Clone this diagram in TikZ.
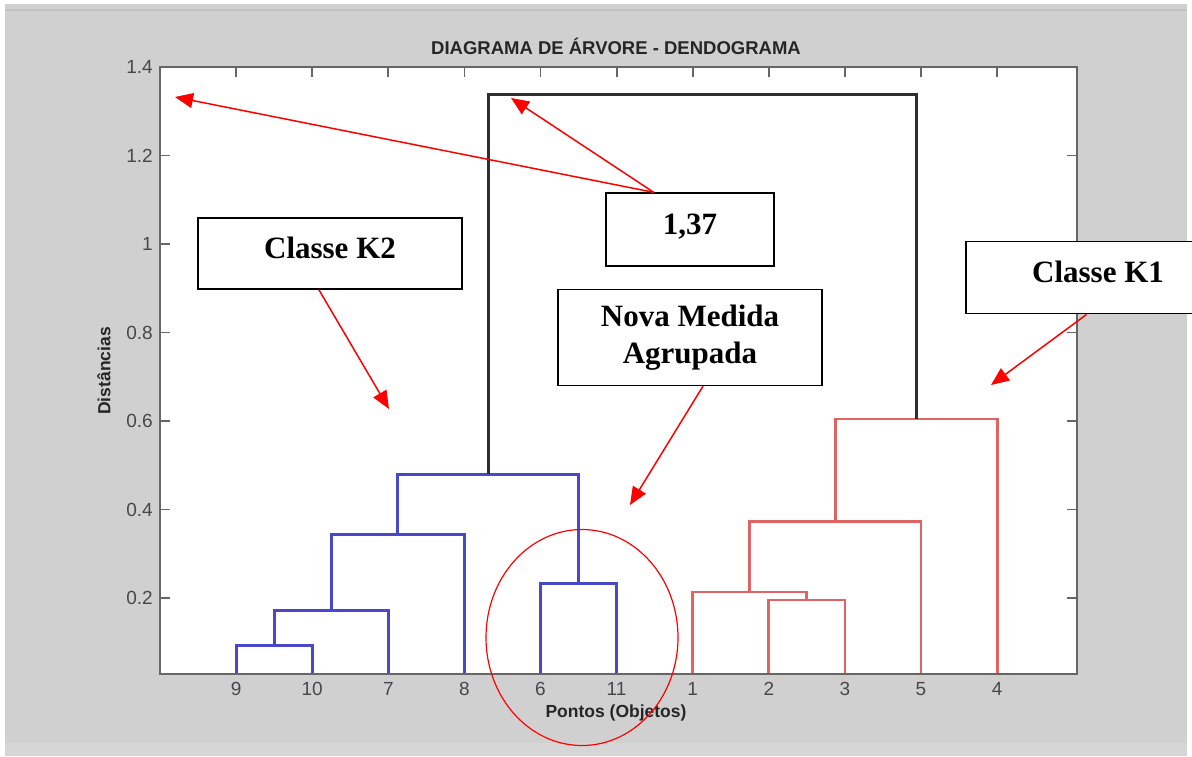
\documentclass[tikz,border=0pt]{standalone}
\usepackage{fontspec}
\setmainfont{Liberation Serif}
\setsansfont{Liberation Sans}
\usetikzlibrary{arrows.meta,positioning,calc,shapes.geometric}
\definecolor{bggray}{HTML}{D0D0D0}
\definecolor{axisgray}{HTML}{666666}
\definecolor{ticktext}{HTML}{484848}
\definecolor{dendblue}{HTML}{4848C8}
\definecolor{dendred}{HTML}{E06464}
\definecolor{dendblack}{HTML}{2E2E2E}
\definecolor{annred}{HTML}{FF0000}

\begin{document}
\begin{tikzpicture}[
    x=1pt, y=-1pt,
    font=\sffamily,
    >=Triangle,
    callout/.style={
        draw=black,
        fill=white,
        line width=1.3pt,
        inner sep=0pt,
        align=center,
        font=\rmfamily\bfseries\fontsize{31}{37}\selectfont
    },
    oneline/.style={text height=21pt, text depth=12pt},
    pointer/.style={-{Triangle[length=18pt,width=15pt]},draw=annred,line width=1.5pt},
    link/.style={line width=2.8pt},
    bluelink/.style={link,dendblue},
    redlink/.style={link,dendred},
    toplink/.style={link,dendblack},
    axisline/.style={axisgray,line width=1.8pt},
    ticklabel/.style={text=ticktext,inner sep=0pt,font=\sffamily\fontsize{19}{19}\selectfont},
    axislabel/.style={text=black!85,inner sep=0pt,font=\sffamily\bfseries\fontsize{17.5}{17.5}\selectfont}
]

\useasboundingbox (0,0) rectangle (1192,756);
\clip (0,0) rectangle (1192,756);

% Window background
\fill[white] (0,0) rectangle (1192,756);
\fill[bggray] (5,4) rectangle (1187,756);
\draw[black!24,line width=1.2pt] (5,10) -- (1187,10);
\fill[black!16] (5,743) rectangle (1187,756);

% Title and axis labels
\node[axislabel,font=\sffamily\bfseries\fontsize{18.5}{18.5}\selectfont] (title) at (616,46) {DIAGRAMA DE ÁRVORE - DENDOGRAMA};
\node[axislabel,rotate=90] (ylab) at (104,371) {Distâncias};
\node[axislabel] (xlab) at (616,713) {Pontos (Objetos)};

% Plot in data units: leaves 1..11, distances
\begin{scope}[shift={(160,686.5)}, x=76.1pt, y=442.5pt]
    \def\yb{0.028}
    \fill[white] (0,\yb) rectangle (12.05,1.4);

    % ticks
    \foreach \i in {1,...,11} {
        \draw[axisline] (\i,1.4) -- ++(0pt,-10pt);
        \draw[axisline] (\i,\yb) -- ++(0pt,10pt);
    }
    \foreach \v in {0.2,0.4,0.6,0.8,1,1.2,1.4} {
        \draw[axisline] (0,\v) -- ++(10pt,0pt);
        \draw[axisline] (12.05,\v) -- ++(-10pt,0pt);
        \node[ticklabel,anchor=east] at ([xshift=-7pt]0,\v) {\v};
    }
    \foreach \i/\lab in {1/9,2/10,3/7,4/8,5/6,6/11,7/1,8/2,9/3,10/5,11/4}
        \node[ticklabel,anchor=north] at ([yshift=-8pt]\i,\yb) {\lab};

    % Classe K2
    \draw[bluelink] (1,\yb) |- (2,0.093) -- (2,\yb);
    \draw[bluelink] (1.5,0.093) |- (3,0.171) -- (3,\yb);
    \draw[bluelink] (2.25,0.171) |- (4,0.344) -- (4,\yb);
    \draw[bluelink] (5,\yb) |- (6,0.233) -- (6,\yb);
    \draw[bluelink] (3.125,0.344) |- (5.5,0.4795) -- (5.5,0.233);

    % Classe K1
    \draw[redlink] (8,\yb) |- (9,0.1955) -- (9,\yb);
    \draw[redlink] (7,\yb) |- (8.5,0.2136) -- (8.5,0.1955);
    \draw[redlink] (7.75,0.2136) |- (10,0.3725) -- (10,\yb);
    \draw[redlink] (8.875,0.3725) |- (11,0.6045) -- (11,\yb);

    % last merge
    \draw[toplink] (4.3125,0.4795) |- (9.9375,1.337) -- (9.9375,0.6045);

    \draw[axisline] (0,\yb) rectangle (12.05,1.4);
\end{scope}

% Annotations
\node[callout,oneline,minimum width=264pt,minimum height=71pt] (boxK2) at (330,253.5) {Classe K2};
\node[callout,oneline,minimum width=168pt,minimum height=73pt] (boxval) at (690,229.5) {1,37};
\node[callout,minimum width=264pt,minimum height=96pt] (boxnova) at (690,337.5) {Nova Medida\\Agrupada};
\node[callout,oneline,minimum width=264pt,minimum height=72.5pt] (boxK1) at (1098,277.5) {Classe K1};

\node[draw=annred,ellipse,line width=1.2pt,minimum width=192pt,minimum height=216pt] (grupo) at (582,637.5) {};

\coordinate (tipaxis) at (175,97);
\coordinate (tiptop) at (511,98);
\coordinate (tipK2) at (389,409);
\coordinate (tipnova) at (630,505);
\coordinate (tipK1) at (991,385);

\draw[pointer] ($(boxval.north west)!0.286!(boxval.north east)$) -- (tipaxis);
\draw[pointer] ($(boxval.north west)!0.286!(boxval.north east)$) -- (tiptop);
\draw[pointer] ($(boxK2.south west)!0.458!(boxK2.south east)$) -- (tipK2);
\draw[pointer] ($(boxnova.south west)!0.549!(boxnova.south east)$) -- (tipnova);
\draw[pointer] ($(boxK1.south west)!0.457!(boxK1.south east)$) -- (tipK1);

\end{tikzpicture}
\end{document}
